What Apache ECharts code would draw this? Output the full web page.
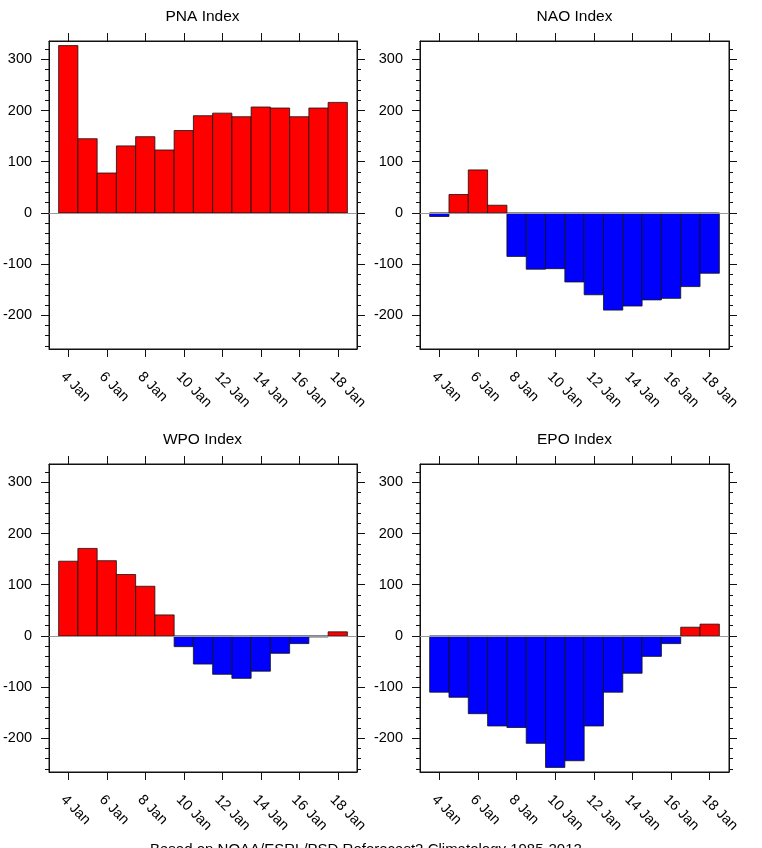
<!DOCTYPE html>
<html>
<head>
<meta charset="utf-8">
<script src="https://cdn.jsdelivr.net/npm/echarts@6/dist/echarts.min.js"></script>
<style>
  html, body { margin: 0; padding: 0; background: #fff; }
  #chart { width: 762px; height: 848px; }
</style>
</head>
<body>
<div id="chart"></div>
<script>
// days (January), one bar per day
var days = [4, 5, 6, 7, 8, 9, 10, 11, 12, 13, 14, 15, 16, 17, 18]
// index values
var pna = [327, 145, 78, 131, 149, 123, 161, 190, 195, 188, 207, 205, 188, 205, 216]
var nao = [-7, 36, 84, 15, -85, -110, -109, -135, -160, -190, -182, -170, -167, -144, -118]
var wpo = [146, 171, 147, 120, 97, 41, -21, -55, -75, -83, -69, -34, -15, -2, 8]
var epo = [-110, -120, -152, -176, -179, -210, -257, -244, -176, -110, -73, -40, -15, 17, 23]
// tick labels
var xTicks = [4, 6, 8, 10, 12, 14, 16, 18]
var yTicks = [-200, -100, 0, 100, 200, 300]
var yMinor = [-260, -240, -220, -180, -160, -140, -120, -80, -60, -40, -20,
  20, 40, 60, 80, 120, 140, 160, 180, 220, 240, 260, 280, 320]
var titles = ['PNA Index', 'NAO Index', 'WPO Index', 'EPO Index']
var seriesData = [pna, nao, wpo, epo]

var font = '"Liberation Sans", Arial, Helvetica, sans-serif'
var yMin = -266, yMax = 336

var panels = [
  { left: 48, top: 41 },
  { left: 420, top: 41 },
  { left: 48, top: 464 },
  { left: 420, top: 464 }
]
var W = 309, H = 308

var grids = [], xAxes = [], yAxes = [], series = [], graphics = []

panels.forEach(function (p, gi) {
  grids.push({ left: p.left, top: p.top, width: W, height: H, show: true,
    borderColor: '#111', borderWidth: 1, backgroundColor: 'transparent' })

  // bottom and top x axes
  ;['bottom', 'top'].forEach(function (pos) {
    xAxes.push({
      gridIndex: gi, type: 'value', min: 3, max: 19, position: pos,
      axisLine: { show: true, onZero: false, lineStyle: { color: '#111', width: 1 } },
      axisTick: { show: true, inside: false, length: 8, customValues: xTicks,
        lineStyle: { color: '#111', width: 1 } },
      axisLabel: pos === 'bottom' ? {
        customValues: xTicks, formatter: function (v) { return v + ' Jan' },
        rotate: -45, margin: 20, verticalAlign: 'top',
        fontSize: 14.5, color: '#000', fontFamily: font
      } : { show: false },
      splitLine: { show: false }
    })
  })

  // y axes: major + minor on both sides
  ;['left', 'right'].forEach(function (pos) {
    yAxes.push({
      gridIndex: gi, type: 'value', min: yMin, max: yMax, position: pos,
      axisLine: { show: true, onZero: false, lineStyle: { color: '#111', width: 1 } },
      axisTick: { show: true, inside: false, length: 8, customValues: yTicks,
        lineStyle: { color: '#111', width: 1 } },
      axisLabel: pos === 'left' ? {
        customValues: yTicks, margin: 17, fontSize: 14.5, color: '#000', fontFamily: font
      } : { show: false },
      splitLine: { show: false }
    })
    yAxes.push({
      gridIndex: gi, type: 'value', min: yMin, max: yMax, position: pos,
      axisLine: { show: false, onZero: false },
      axisTick: { show: true, inside: false, length: 4, customValues: yMinor,
        lineStyle: { color: '#111', width: 1 } },
      axisLabel: { show: false },
      splitLine: { show: false }
    })
  })

  series.push({
    type: 'custom',
    xAxisIndex: gi * 2,
    yAxisIndex: gi * 4,
    z: 3,
    encode: { x: 0, y: 1 },
    data: days.map(function (d, i) { return [d, seriesData[gi][i]] }),
    renderItem: function (params, api) {
      var x = api.value(0), v = api.value(1)
      var a = api.coord([x - 0.5, v])
      var b = api.coord([x + 0.5, 0])
      return {
        type: 'rect',
        shape: { x: a[0], y: Math.min(a[1], b[1]), width: b[0] - a[0], height: Math.abs(b[1] - a[1]) },
        style: { fill: v >= 0 ? '#ff0000' : '#0000ff', stroke: '#111', lineWidth: 0.8 }
      }
    },
    markLine: {
      silent: true, symbol: ['none', 'none'], label: { show: false },
      lineStyle: { color: '#999', width: 1, type: 'solid' },
      data: [{ yAxis: 0 }]
    }
  })

  graphics.push({
    type: 'text', x: p.left + W / 2, y: p.top - 24,
    style: { text: titles[gi], fontSize: 15.5, fontFamily: font, fill: '#000',
      align: 'center', verticalAlign: 'middle' }
  })
})

graphics.push({
  type: 'text', x: 150, y: 842,
  style: { text: 'Based on NOAA/ESRL/PSD Reforecast2 Climatology 1985-2012',
    fontSize: 15, fontFamily: font, fill: '#000', align: 'left', verticalAlign: 'top' }
})

var myChart = echarts.init(document.getElementById('chart'))
myChart.setOption({
  animation: false,
  backgroundColor: '#fff',
  grid: grids,
  xAxis: xAxes,
  yAxis: yAxes,
  series: series,
  graphic: graphics
})
</script>
</body>
</html>
